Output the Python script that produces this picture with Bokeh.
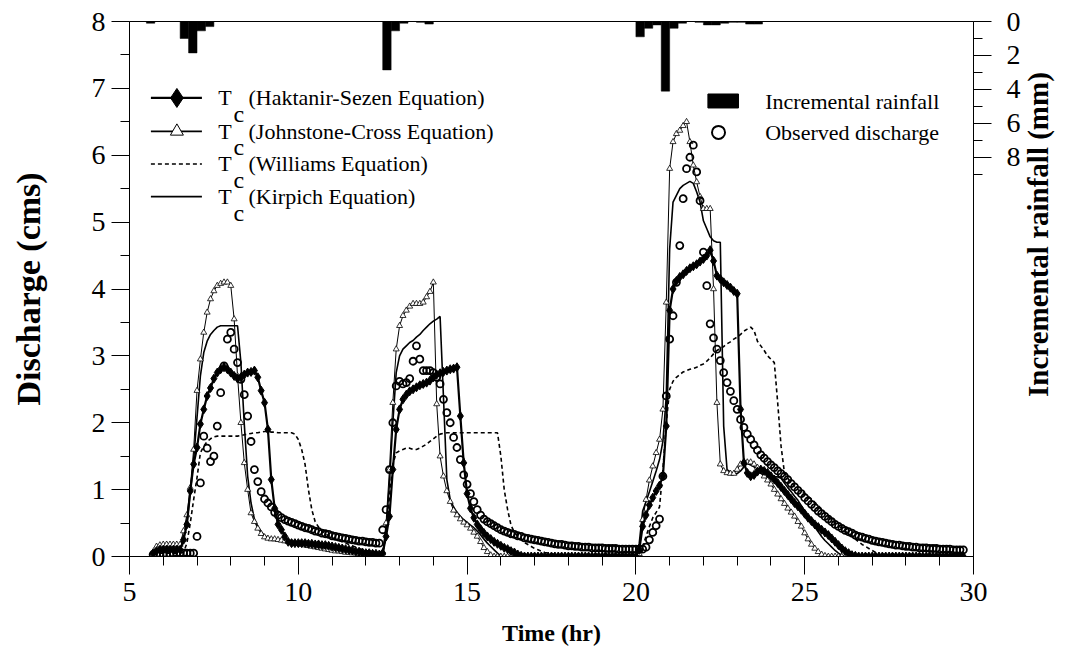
import math
from bokeh.plotting import figure
from bokeh.models import (Range1d, LinearAxis, FixedTicker, ColumnDataSource, Label)
from bokeh.embed import file_html
from bokeh.resources import INLINE

# ---------------- data ----------------
# sampling times (hr), every 0.1 hr from 5.7 to 29.7
T = [round(5.7 + 0.1 * i, 2) for i in range(241)]

# Tc (Johnstone-Cross Equation)
JC = ([0.05, 0.15, 0.17] +
      [0.18, 0.18, 0.18, 0.18, 0.18, 0.18, 0.38, 0.62, 1.03, 1.6] +
      [2.48, 2.95, 3.35, 3.65, 3.85, 3.97, 4.05, 4.08, 4.1, 4.1] +
      [4.05, 3.55, 2.7, 2.0, 1.4, 1.0, 0.65, 0.52, 0.42, 0.34] +
      [0.29, 0.27, 0.26, 0.26, 0.25, 0.24, 0.23, 0.22, 0.21, 0.2] +
      [0.19, 0.18, 0.17, 0.16, 0.15, 0.14, 0.13, 0.12, 0.11, 0.1] +
      [0.09, 0.08, 0.08, 0.07, 0.06, 0.06, 0.05, 0.05, 0.04, 0.04] +
      [0.03, 0.03, 0.02, 0.02, 0.02, 0.05, 0.5, 1.3, 2.3, 3.1] +
      [3.45, 3.6, 3.68, 3.74, 3.78, 3.78, 3.78, 3.8, 3.88, 3.96] +
      [4.1, 2.28, 1.5, 1.2, 0.98, 0.82, 0.69, 0.62, 0.56, 0.51] +
      [0.47, 0.42, 0.36, 0.3, 0.22, 0.13, 0.07, 0.02, 0, 0] +
      [0, 0, 0, 0, 0, 0, 0, 0, 0, 0] +
      [0, 0, 0, 0, 0, 0, 0, 0, 0, 0] +
      [0, 0, 0, 0, 0, 0, 0, 0, 0, 0] +
      [0, 0, 0, 0, 0, 0, 0, 0, 0, 0] +
      [0, 0.04, 0.55, 0.85, 1.14, 1.35, 1.55, 1.75, 2.2, 3.8] +
      [5.8, 6.2, 6.32, 6.37, 6.44, 6.5, 6.2, 5.85, 5.6, 5.38] +
      [5.2, 5.2, 5.2, 4.0, 2.3, 1.38, 1.28, 1.25, 1.24, 1.24] +
      [1.3, 1.38, 1.41, 1.41, 1.41, 1.38, 1.33, 1.27, 1.2, 1.14] +
      [1.08, 1.0, 0.93, 0.86, 0.79, 0.72, 0.66, 0.6, 0.52, 0.45] +
      [0.35, 0.26, 0.18, 0.12, 0.07, 0.03, 0.01, 0, 0, 0] +
      [0, 0, 0, 0, 0, 0, 0, 0, 0, 0] +
      [0, 0, 0, 0, 0, 0, 0, 0, 0, 0] +
      [0, 0, 0, 0, 0, 0, 0, 0, 0, 0] +
      [0, 0, 0, 0, 0, 0, 0, 0])

# Tc (Kirpich Equation)
KI = ([0.05, 0.12, 0.15] +
      [0.15, 0.15, 0.15, 0.15, 0.15, 0.15, 0.28, 0.5, 0.95, 1.45] +
      [2.08, 2.7, 3.05, 3.22, 3.32, 3.38, 3.43, 3.45, 3.45, 3.45] +
      [3.45, 3.45, 3.45, 2.9, 1.98, 1.2, 0.8, 0.56, 0.45, 0.37] +
      [0.31, 0.28, 0.27, 0.26, 0.26, 0.25, 0.24, 0.24, 0.23, 0.22] +
      [0.21, 0.2, 0.2, 0.19, 0.18, 0.17, 0.16, 0.16, 0.15, 0.14] +
      [0.13, 0.12, 0.12, 0.11, 0.1, 0.09, 0.09, 0.08, 0.07, 0.07] +
      [0.06, 0.05, 0.04, 0.03, 0.02, 0.03, 0.4, 1.1, 2.0, 2.75] +
      [3.0, 3.1, 3.15, 3.2, 3.23, 3.28, 3.32, 3.38, 3.43, 3.48] +
      [3.52, 3.55, 3.59, 2.38, 1.15, 0.85, 0.74, 0.66, 0.6, 0.55] +
      [0.51, 0.47, 0.43, 0.38, 0.32, 0.26, 0.2, 0.15, 0.1, 0.05] +
      [0.01, 0, 0, 0, 0, 0, 0, 0, 0, 0] +
      [0, 0, 0, 0, 0, 0, 0, 0, 0, 0] +
      [0, 0, 0, 0, 0, 0, 0, 0, 0, 0] +
      [0, 0, 0, 0, 0, 0, 0, 0, 0, 0] +
      [0, 0.2, 0.68, 0.82, 0.97, 1.12, 1.28, 1.45, 1.72, 2.4] +
      [4.6, 5.3, 5.4, 5.5, 5.55, 5.58, 5.61, 5.58, 5.45, 5.3] +
      [5.02, 4.9, 4.78, 4.72, 4.7, 4.7, 1.95, 1.3, 1.26, 1.24] +
      [1.24, 1.28, 1.34, 1.39, 1.37, 1.34, 1.3, 1.25, 1.2, 1.19] +
      [1.19, 1.19, 1.19, 1.17, 1.1, 1.03, 0.97, 0.9, 0.84, 0.76] +
      [0.68, 0.6, 0.52, 0.44, 0.37, 0.3, 0.24, 0.19, 0.14, 0.09] +
      [0.05, 0.02, 0, 0, 0, 0, 0, 0, 0, 0] +
      [0, 0, 0, 0, 0, 0, 0, 0, 0, 0] +
      [0, 0, 0, 0, 0, 0, 0, 0, 0, 0] +
      [0, 0, 0, 0, 0, 0, 0, 0])

# Tc (Haktanir-Sezen Equation)
HS = ([0.05, 0.08, 0.1] +
      [0.1, 0.1, 0.1, 0.1, 0.1, 0.1, 0.25, 0.48, 0.98, 1.38] +
      [1.63, 1.98, 2.2, 2.4, 2.52, 2.66, 2.75, 2.8, 2.83, 2.8] +
      [2.75, 2.7, 2.66, 2.68, 2.72, 2.75, 2.76, 2.78, 2.68, 2.48] +
      [2.3, 1.9, 1.15, 0.72, 0.48, 0.4, 0.3, 0.22, 0.2, 0.2] +
      [0.2, 0.2, 0.2, 0.19, 0.19, 0.18, 0.18, 0.17, 0.17, 0.16] +
      [0.15, 0.14, 0.13, 0.12, 0.11, 0.1, 0.09, 0.08, 0.07, 0.06] +
      [0.05, 0.05, 0.04, 0.04, 0.03, 0.05, 0.3, 0.6, 1.3, 1.9] +
      [2.2, 2.35, 2.42, 2.47, 2.5, 2.53, 2.56, 2.58, 2.6, 2.63] +
      [2.68, 2.72, 2.74, 2.76, 2.78, 2.8, 2.81, 2.83, 2.1, 1.4] +
      [0.94, 0.72, 0.58, 0.48, 0.41, 0.35, 0.3, 0.26, 0.22, 0.19] +
      [0.16, 0.13, 0.11, 0.08, 0.06, 0.03, 0.01, 0, 0, 0] +
      [0, 0, 0, 0, 0, 0, 0, 0, 0, 0] +
      [0, 0, 0, 0, 0, 0, 0, 0, 0, 0] +
      [0, 0, 0, 0, 0, 0, 0, 0, 0, 0] +
      [0, 0.1, 0.45, 0.62, 0.77, 0.88, 0.98, 1.06, 1.2, 1.95] +
      [3.68, 4.0, 4.12, 4.18, 4.22, 4.27, 4.31, 4.34, 4.37, 4.41] +
      [4.45, 4.5, 4.58, 4.42, 4.2, 4.15, 4.1, 4.06, 4.02, 3.97] +
      [3.93, 2.2, 1.4, 1.25, 1.2, 1.22, 1.27, 1.3, 1.28, 1.25] +
      [1.2, 1.15, 1.1, 1.04, 0.98, 0.92, 0.86, 0.8, 0.75, 0.7] +
      [0.64, 0.58, 0.53, 0.48, 0.44, 0.4, 0.36, 0.32, 0.27, 0.22] +
      [0.17, 0.12, 0.08, 0.05, 0.02, 0.01, 0, 0, 0, 0] +
      [0, 0, 0, 0, 0, 0, 0, 0, 0, 0] +
      [0, 0, 0, 0, 0, 0, 0, 0, 0, 0] +
      [0, 0, 0, 0, 0, 0, 0, 0])

# Tc (Williams Equation)
WI = ([0.03, 0.05, 0.05] +
      [0.05, 0.05, 0.05, 0.05, 0.05, 0.05, 0.06, 0.2, 0.5, 0.85] +
      [1.18, 1.55, 1.65, 1.72, 1.76, 1.79, 1.8, 1.8, 1.8, 1.8] +
      [1.8, 1.8, 1.8, 1.81, 1.82, 1.83, 1.84, 1.85, 1.85, 1.86] +
      [1.87, 1.87, 1.86, 1.86, 1.85, 1.85, 1.85, 1.85, 1.85, 1.83] +
      [1.75, 1.6, 1.38, 1.0, 0.7, 0.52, 0.44, 0.38, 0.34, 0.31] +
      [0.28, 0.26, 0.24, 0.22, 0.2, 0.18, 0.16, 0.14, 0.12, 0.1] +
      [0.09, 0.08, 0.07, 0.06, 0.05, 0.05, 0.3, 0.9, 1.38, 1.55] +
      [1.58, 1.6, 1.62, 1.62, 1.6, 1.6, 1.62, 1.65, 1.68, 1.72] +
      [1.76, 1.8, 1.83, 1.84, 1.85, 1.85, 1.85, 1.85, 1.85, 1.85] +
      [1.85, 1.85, 1.85, 1.85, 1.85, 1.85, 1.85, 1.85, 1.85, 1.85] +
      [1.5, 1.0, 0.7, 0.47, 0.36, 0.3, 0.25, 0.21, 0.18, 0.15] +
      [0.12, 0.1, 0.08, 0.06, 0.05, 0.04, 0.03, 0.02, 0.01, 0.01] +
      [0, 0, 0, 0, 0, 0, 0, 0, 0, 0] +
      [0, 0, 0, 0, 0, 0, 0, 0, 0, 0] +
      [0, 0.02, 0.15, 0.3, 0.45, 0.58, 0.66, 0.74, 1.3, 2.0] +
      [2.5, 2.62, 2.68, 2.72, 2.76, 2.78, 2.8, 2.81, 2.83, 2.86] +
      [2.88, 2.92, 2.97, 3.03, 3.08, 3.11, 3.14, 3.18, 3.21, 3.25] +
      [3.28, 3.32, 3.37, 3.4, 3.43, 3.38, 3.22, 3.15, 3.08, 3.0] +
      [2.95, 2.9, 2.3, 1.65, 1.25, 1.17, 1.1, 1.05, 1.0, 0.97] +
      [0.94, 0.9, 0.86, 0.81, 0.76, 0.71, 0.65, 0.6, 0.55, 0.5] +
      [0.46, 0.42, 0.38, 0.34, 0.3, 0.26, 0.22, 0.18, 0.15, 0.12] +
      [0.09, 0.06, 0.03, 0.01, 0, 0, 0, 0, 0, 0] +
      [0, 0, 0, 0, 0, 0, 0, 0, 0, 0] +
      [0, 0, 0, 0, 0, 0, 0, 0])

# Observed discharge
OBS = ([0.03, 0.04, 0.04] +
       [0.04, 0.04, 0.04, 0.05, 0.05, 0.05, 0.05, 0.05, 0.05, 0.05] +
       [0.3, 1.1, 1.8, 1.62, 1.42, 1.5, 1.95, 2.45, 2.85, 3.25] +
       [3.35, 3.1, 2.9, 2.65, 2.42, 2.1, 1.72, 1.3, 1.12, 0.97] +
       [0.86, 0.8, 0.74, 0.66, 0.62, 0.58, 0.55, 0.53, 0.51, 0.49] +
       [0.47, 0.45, 0.43, 0.42, 0.4, 0.38, 0.37, 0.35, 0.34, 0.33] +
       [0.31, 0.3, 0.29, 0.28, 0.27, 0.26, 0.25, 0.24, 0.23, 0.23] +
       [0.22, 0.21, 0.21, 0.2, 0.2, 0.4, 0.7, 1.3, 2.0, 2.55] +
       [2.62, 2.58, 2.6, 2.66, 2.92, 3.15, 2.95, 2.78, 2.78, 2.78] +
       [2.75, 2.68, 2.58, 2.35, 2.15, 2.0, 1.78, 1.63, 1.45, 1.22] +
       [1.08, 0.94, 0.82, 0.7, 0.62, 0.56, 0.52, 0.49, 0.46, 0.43] +
       [0.4, 0.38, 0.36, 0.34, 0.33, 0.31, 0.3, 0.28, 0.27, 0.26] +
       [0.25, 0.24, 0.23, 0.22, 0.21, 0.2, 0.19, 0.18, 0.18, 0.17] +
       [0.16, 0.16, 0.15, 0.15, 0.14, 0.14, 0.14, 0.13, 0.13, 0.13] +
       [0.13, 0.12, 0.12, 0.12, 0.12, 0.11, 0.11, 0.11, 0.11, 0.11] +
       [0.11, 0.11, 0.11, 0.14, 0.25, 0.36, 0.46, 0.56, 1.2, 2.4] +
       [3.25, 3.6, 4.1, 4.65, 5.35, 5.8, 5.97, 6.15, 5.75, 5.32] +
       [4.55, 4.05, 3.48, 3.27, 3.1, 2.93, 2.75, 2.6, 2.47, 2.33] +
       [2.2, 2.05, 1.93, 1.83, 1.75, 1.67, 1.59, 1.52, 1.47, 1.42] +
       [1.37, 1.33, 1.28, 1.24, 1.2, 1.15, 1.09, 1.04, 0.99, 0.94] +
       [0.88, 0.83, 0.78, 0.73, 0.68, 0.64, 0.6, 0.56, 0.52, 0.48] +
       [0.45, 0.42, 0.39, 0.37, 0.35, 0.32, 0.3, 0.29, 0.27, 0.26] +
       [0.24, 0.23, 0.22, 0.21, 0.2, 0.19, 0.18, 0.17, 0.17, 0.16] +
       [0.15, 0.15, 0.14, 0.14, 0.13, 0.13, 0.13, 0.12, 0.12, 0.12] +
       [0.11, 0.11, 0.11, 0.11, 0.1, 0.1, 0.1, 0.1])

# Incremental rainfall (15-min intervals): interval start (hr) and depth (mm)
RAIN_START = [5.5, 6.5, 6.75, 7.0, 7.25, 12.5, 12.75, 13.0, 13.5, 13.75,
              20.0, 20.25, 20.5, 20.75, 21.0, 21.25, 21.75, 22.0, 22.25,
              22.5, 22.75, 23.0, 23.25, 23.5]
RAIN_MM = [0.1, 1.0, 1.85, 0.55, 0.3, 2.85, 0.55, 0.1, 0.05, 0.15,
           0.9, 0.4, 0.2, 4.1, 0.4, 0.1, 0.05, 0.2, 0.2,
           0.1, 0.05, 0.05, 0.15, 0.15]

X_TICKS = [5, 10, 15, 20, 25, 30]
Y_TICKS = [0, 1, 2, 3, 4, 5, 6, 7, 8]
RAIN_TICKS = [0, 2, 4, 6, 8]

for s in (JC, KI, HS, WI, OBS):
    assert len(s) == len(T), len(s)

# ---------------- figure ----------------
FONT = "Liberation Serif"
p = figure(width=1073, height=650, output_backend="svg", toolbar_location=None,
           x_range=Range1d(5, 30), y_range=Range1d(0, 8),
           min_border_left=129, min_border_right=100,
           min_border_top=21, min_border_bottom=94)
p.extra_y_ranges = {"rain": Range1d(31.5, 0)}
p.xgrid.grid_line_color = None
p.ygrid.grid_line_color = None
p.outline_line_color = "black"
p.outline_line_width = 1
p.background_fill_color = "white"
p.border_fill_color = "white"

def style_axis(ax):
    ax.axis_line_color = "black"
    ax.axis_line_width = 1
    ax.major_tick_line_color = "black"
    ax.minor_tick_line_color = "black"
    ax.major_tick_out = 18
    ax.major_tick_in = 0
    ax.minor_tick_out = 9
    ax.minor_tick_in = 0
    ax.major_label_text_font = FONT
    ax.major_label_text_font_size = "28px"
    ax.major_label_text_color = "black"
    ax.axis_label_text_font = FONT
    ax.axis_label_text_font_style = "bold"
    ax.axis_label_text_color = "black"

xa = p.xaxis[0]
xa.ticker = FixedTicker(ticks=X_TICKS, minor_ticks=list(range(6, 30)))
style_axis(xa)
xa.major_label_standoff = 8
xa.axis_label = "Time (hr)"
xa.axis_label_text_font_size = "24px"
xa.axis_label_standoff = 16

ya = p.yaxis[0]
ya.ticker = FixedTicker(ticks=Y_TICKS, minor_ticks=[0.5 + i for i in range(8)])
style_axis(ya)
ya.major_label_standoff = 6
ya.axis_label = "Discharge (cms)"
ya.axis_label_text_font_size = "34px"
ya.axis_label_standoff = 42

ra = LinearAxis(y_range_name="rain",
                ticker=FixedTicker(ticks=RAIN_TICKS, minor_ticks=[1, 3, 5, 7, 9]))
style_axis(ra)
ra.major_label_standoff = 15
ra.axis_label_text_font_size = "29px"
ra.axis_label_standoff = 14
RIGHT_TITLE = "Incremental rainfall (mm)"
try:
    ra.axis_label_align = "end"
    ra.axis_label_orientation = math.pi / 2
    ra.axis_label = "\u00a0" * 22 + RIGHT_TITLE
except Exception:
    ra.axis_label = RIGHT_TITLE
p.add_layout(ra, "right")

# rainfall bars hanging from the top
rain_src = ColumnDataSource(dict(x=[s + 0.125 for s in RAIN_START],
                                 top=[0] * len(RAIN_MM), bottom=RAIN_MM))
p.vbar(x="x", width=0.25, top="top", bottom="bottom", source=rain_src,
       y_range_name="rain", fill_color="black", line_color="black", line_width=0.5)

src = ColumnDataSource(dict(t=T, jc=JC, ki=KI, hs=HS, wi=WI, obs=OBS))
p.line("t", "wi", source=src, line_color="black", line_width=1.6, line_dash="4 3")
p.line("t", "ki", source=src, line_color="black", line_width=1.6)
p.line("t", "jc", source=src, line_color="black", line_width=1.0)
p.scatter("t", "jc", source=src, marker="triangle", size=6, fill_color="white",
          line_color="black", line_width=0.8)
p.line("t", "hs", source=src, line_color="black", line_width=2.2)
p.scatter("t", "hs", source=src, marker="diamond", size=9, fill_color="black",
          line_color="black")
p.scatter("t", "obs", source=src, marker="circle", size=7, fill_color=None,
          line_color="black", line_width=1.8)

# ---------------- legends (drawn manually) ----------------
rows = [6.857, 6.357, 5.870, 5.381]
names = ["(Haktanir-Sezen Equation)", "(Johnstone-Cross Equation)",
         "(Williams Equation)", "(Kirpich Equation)"]
lx0, lx1, lxm = 5.634, 7.145, 6.404
p.line([lx0, lx1], [rows[0]] * 2, line_color="black", line_width=2.2)
p.scatter([lxm], [rows[0]], marker="diamond", size=19, fill_color="black", line_color="black")
p.line([lx0, lx1], [rows[1]] * 2, line_color="black", line_width=1.6)
p.scatter([lxm], [rows[1]], marker="triangle", size=13, fill_color="white",
          line_color="black", line_width=1)
p.line([lx0, lx1], [rows[2]] * 2, line_color="black", line_width=1.6, line_dash="4 3")
p.line([lx0, lx1], [rows[3]] * 2, line_color="black", line_width=1.6)
for yy, nm in zip(rows, names):
    p.add_layout(Label(x=7.627, y=yy, text="T", text_font=FONT, text_font_size="22px",
                       text_baseline="middle", text_align="left", text_color="black"))
    p.add_layout(Label(x=8.081, y=yy - 0.24, text="c", text_font=FONT, text_font_size="24px",
                       text_baseline="middle", text_align="left", text_color="black"))
    p.add_layout(Label(x=8.525, y=yy, text=nm, text_font=FONT, text_font_size="22px",
                       text_baseline="middle", text_align="left", text_color="black"))

p.quad(left=[22.133], right=[23.039], bottom=[6.707], top=[6.916],
       fill_color="black", line_color="black")
p.scatter([22.447], [6.342], marker="circle", size=13, fill_color=None,
          line_color="black", line_width=2)
p.add_layout(Label(x=23.83, y=6.80, text="Incremental rainfall", text_font=FONT,
                   text_font_size="22px", text_baseline="middle", text_color="black"))
p.add_layout(Label(x=23.83, y=6.338, text="Observed discharge", text_font=FONT,
                   text_font_size="22px", text_baseline="middle", text_color="black"))

open("out.html", "w").write(file_html(p, INLINE))
